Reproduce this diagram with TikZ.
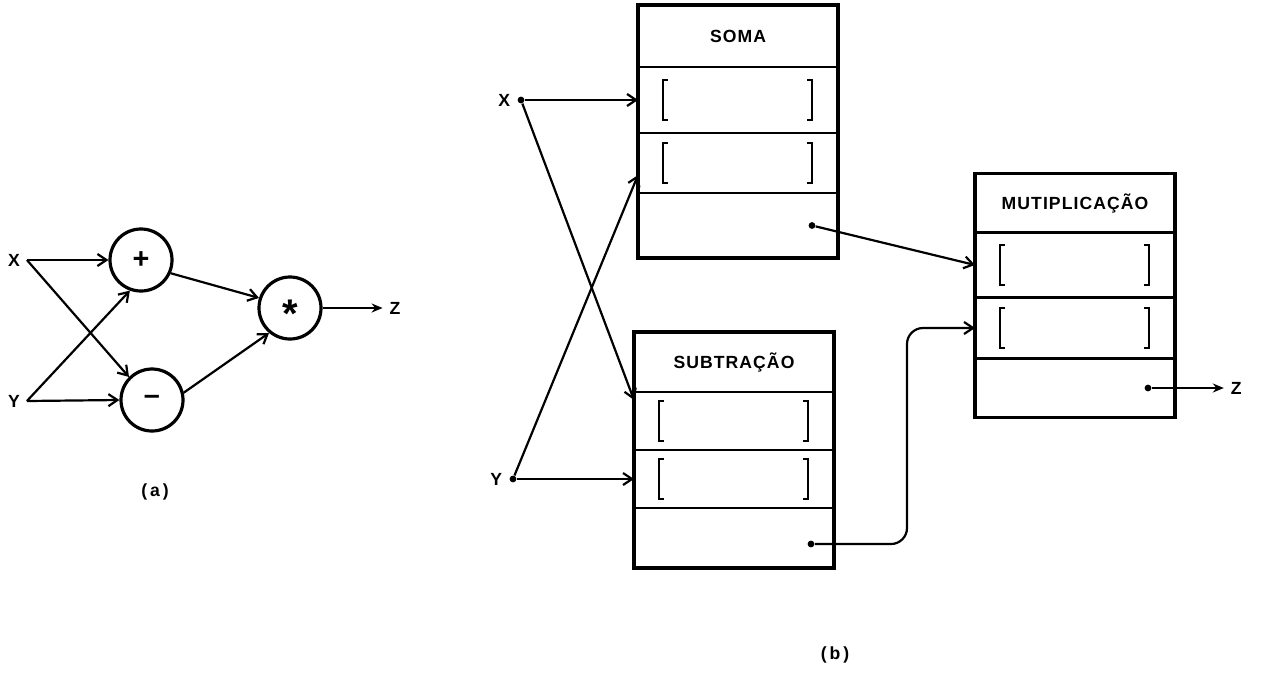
\documentclass[tikz,border=0pt]{standalone}
\usepackage{fontspec}
\setsansfont{Liberation Sans}[LetterSpace=6]
\usepackage{tikz}
\usetikzlibrary{arrows.meta,positioning,calc}
\tikzset{
    cell/.style={rectangle, draw, line width=1.1pt, minimum width=100pt,
                 minimum height=#1, outer sep=0pt, inner sep=0pt}
}

\begin{document}
\begin{tikzpicture}[
    x=0.5pt, y=-0.5pt,
    node distance=0pt,
    every node/.style={font=\sffamily\bfseries\fontsize{8.8}{10}\selectfont},
    op/.style={circle, draw, line width=1.6pt, minimum size=31pt, inner sep=0pt},
    box/.style={line width=1.8pt},
    dot/.style={circle, fill, inner sep=0pt, minimum size=3.4pt},
    bracket/.style={line width=1.3pt},
    arrow/.style={-{Straight Barb[length=4.5pt,width=6pt]}, line width=1.1pt},
    zarrow/.style={-{Stealth[length=5.5pt,width=4.5pt]}, line width=1.1pt}
]
\useasboundingbox (0,0) rectangle (1262,681);

% (a) data flow graph
\node (xa) at (14,260) {X};
\node (ya) at (14,401) {Y};
\node[op] (plus)  at (141,260) {\Large +};
\node[op] (minus) at (152,400) {\Large\textendash};
\node[op] (star)  at (290,308) {\fontsize{20}{20}\selectfont\smash{\raisebox{-9.5pt}{*}}};
\node[right=30pt of star] (za) {Z};
\node (capa) at (155,492) {(\,a\,)};

\draw[arrow] (xa.east) -- (plus.west);
\draw[arrow] (xa.east) -- (minus.north west);
\draw[arrow] (ya.east) -- (plus.250);
\draw[arrow] (ya.east) -- (minus.west);
\draw[arrow] (plus.-24) -- (star.162);
\draw[arrow] (minus.13) -- (star.230);
\draw[zarrow] (star.east) -- (za.west);

% (b) templates
\node[cell=31pt] (soma) at (738,36) {SOMA};
\node[cell=33pt, below=of soma]    (soma1) {};
\node[cell=30pt, below=of soma1]   (soma2) {};
\node[cell=32.5pt, below=of soma2] (soma3) {};
\draw[box] (soma.north west) rectangle (soma3.south east);

\node[cell=30pt] (subt) at (734,362) {SUBTRAÇÃO};
\node[cell=29pt, below=of subt]  (subt1) {};
\node[cell=29pt, below=of subt1] (subt2) {};
\node[cell=30pt, below=of subt2] (subt3) {};
\draw[box] (subt.north west) rectangle (subt3.south east);

\node[cell=29.5pt] (mult) at (1075,203) {MUTIPLICAÇÃO};
\node[cell=32.5pt, below=of mult]  (mult1) {};
\node[cell=30.5pt, below=of mult1] (mult2) {};
\node[cell=29.5pt, below=of mult2] (mult3) {};
\draw[box] (mult.north west) rectangle (mult3.south east);

% operand slots
\foreach \c in {soma1,soma2,subt1,subt2,mult1,mult2} {
  \draw[bracket] ([xshift=15pt,yshift=10pt]\c.west) -- ++(-2.5pt,0) -- ++(0,-20pt) -- ++(2.5pt,0);
  \draw[bracket] ([xshift=-15.5pt,yshift=10pt]\c.east) -- ++(2.5pt,0) -- ++(0,-20pt) -- ++(-2.5pt,0);
}

% inputs and outputs
\node[dot, label=left:X] (xb) at (521,100) {};
\node[dot, label=left:Y] (yb) at (513,479) {};
\node[dot] (somaout) at ([xshift=-13pt]soma3.east) {};
\node[dot] (subtout) at ([xshift=-11.5pt,yshift=-3pt]subt3.east) {};
\node[dot] (multout) at ([xshift=-13.5pt]mult3.east) {};
\node[right=36pt of multout] (zb) {Z};
\node (capb) at (835,655) {(\,b\,)};

% Arrows
\draw[arrow] (xb) -- (soma1.west);
\draw[arrow] (xb) -- ([yshift=-4pt]subt1.north west);
\draw[arrow] (yb) -- ([yshift=9pt]soma2.south west);
\draw[arrow] (yb) -- (subt2.west);
\draw[arrow] (somaout) -- (mult1.west);
\draw[arrow, rounded corners=8pt] (subtout) -| ([xshift=-34pt]mult2.west) -- (mult2.west);
\draw[zarrow] (multout) -- (zb.west);

\end{tikzpicture}
\end{document}
